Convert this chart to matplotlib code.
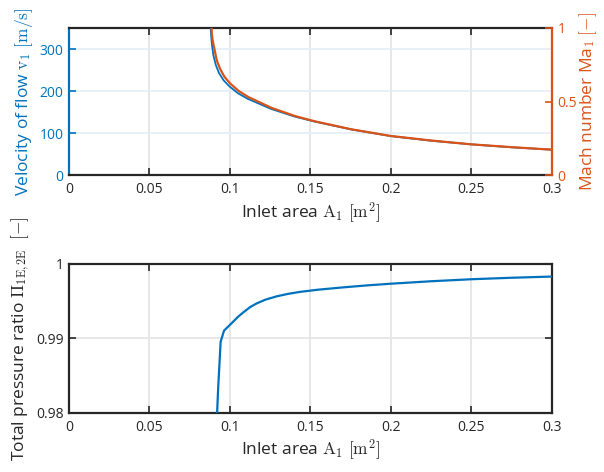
import matplotlib
matplotlib.use("Agg")
import matplotlib.pyplot as plt

# ---- data ----
A_ma = [0.0886, 0.0887, 0.0892, 0.0897, 0.0903, 0.0918, 0.0938, 0.0965, 0.1000,
        0.1055, 0.1114, 0.1259, 0.1404, 0.1528, 0.1750, 0.1998, 0.2250, 0.2500,
        0.2750, 0.3000]
Ma1 = [1.000, 0.960, 0.920, 0.890, 0.860, 0.780, 0.724, 0.670, 0.625,
       0.572, 0.532, 0.458, 0.403, 0.367, 0.314, 0.268, 0.237, 0.211,
       0.192, 0.175]

A_v = [0.0880, 0.0883, 0.0888, 0.0897, 0.0912, 0.0932, 0.0960, 0.0995, 0.1050,
       0.1110, 0.1255, 0.1400, 0.1525, 0.1750, 0.1998, 0.2250, 0.2500, 0.2750,
       0.3000]
v1 = [350, 332, 310, 285, 262, 243, 226, 212, 195,
      182, 158, 140, 128, 109.5, 93.5, 82.5, 73.8, 66.8,
      61.2]

A_pi = [0.0916, 0.0927, 0.0942, 0.0963, 0.1010, 0.1050, 0.1083, 0.1125, 0.1166,
        0.1220, 0.1290, 0.1360, 0.1435, 0.1550, 0.1700, 0.1850, 0.2000, 0.2250,
        0.2500, 0.2750, 0.3000]
Pi = [0.97800, 0.98350, 0.98955, 0.99104, 0.99203, 0.99290, 0.99350, 0.99420, 0.99470,
      0.99520, 0.99565, 0.99598, 0.99625, 0.99655, 0.99685, 0.99712, 0.99735, 0.99768,
      0.99795, 0.99815, 0.99831]

xticks = [0, 0.05, 0.1, 0.15, 0.2, 0.25, 0.3]
xticklabels = ["0", "0.05", "0.1", "0.15", "0.2", "0.25", "0.3"]
vticks = [0, 100, 200, 300]
mticks = [0, 0.5, 1]
mticklabels = ["0", "0.5", "1"]
pticks = [0.98, 0.99, 1.0]
pticklabels = ["0.98", "0.99", "1"]

BLUE = "#0072BD"
ORANGE = "#D95319"
DARK = "#262626"

plt.rcParams['font.family'] = ['Open Sans', 'DejaVu Sans']
plt.rcParams['mathtext.fontset'] = 'cm'
FS_T = 10
FS_L = 12.5

fig = plt.figure(figsize=(6.04, 4.72), dpi=100)

# ---------------- top axes ----------------
ax1 = fig.add_axes([0.1142, 0.6282, 0.7997, 0.3125])
ax1.plot(A_v, v1, color=BLUE, lw=1.3, zorder=3)
ax1.set_xlim(0, 0.3)
ax1.set_ylim(0, 350)
ax1.set_xticks(xticks)
ax1.set_xticklabels(xticklabels)
ax1.set_yticks(vticks)
ax1.tick_params(axis='x', direction='in', top=True, colors=DARK, labelsize=FS_T,
                length=5, width=1.2, pad=5)
ax1.tick_params(axis='y', direction='in', colors=BLUE, labelsize=FS_T,
                length=5, width=1.2, right=False, pad=4)
ax1.grid(axis='x', color='#E3E3E3', lw=1.2)
ax1.grid(axis='y', color='#E3EEF6', lw=1.2)
ax1.set_axisbelow(True)
for s in ['top', 'bottom']:
    ax1.spines[s].set_color(DARK)
    ax1.spines[s].set_linewidth(1.6)
ax1.spines['left'].set_color(BLUE)
ax1.spines['left'].set_linewidth(1.6)
ax1.spines['right'].set_visible(False)
ax1.set_xlabel(r"Inlet area $\mathrm{A}_1\ [\mathrm{m}^2]$", fontsize=FS_L, color=DARK,
               labelpad=2)
ax1.set_ylabel(r"Velocity of flow $\mathrm{v}_1\ [\mathrm{m/s}]$", fontsize=FS_L,
               color=BLUE, labelpad=3)

ax2 = ax1.twinx()
ax2.plot(A_ma, Ma1, color=ORANGE, lw=1.6, zorder=4)
ax2.set_ylim(0, 1)
ax2.set_yticks(mticks)
ax2.set_yticklabels(mticklabels)
ax2.tick_params(axis='y', direction='in', colors=ORANGE, labelsize=FS_T,
                length=5, width=1.2, pad=4)
for s in ['top', 'bottom', 'left']:
    ax2.spines[s].set_visible(False)
ax2.spines['right'].set_color(ORANGE)
ax2.spines['right'].set_linewidth(1.6)
ax2.set_ylabel(r"Mach number Ma$_1$ $[\mathrm{-}]$", fontsize=FS_L, color=ORANGE,
               labelpad=0)

# ---------------- bottom axes ----------------
ax3 = fig.add_axes([0.1142, 0.1256, 0.7997, 0.3151])
ax3.plot(A_pi, Pi, color=BLUE, lw=1.6, zorder=3)
ax3.set_xlim(0, 0.3)
ax3.set_ylim(0.98, 1.0)
ax3.set_xticks(xticks)
ax3.set_xticklabels(xticklabels)
ax3.set_yticks(pticks)
ax3.set_yticklabels(pticklabels)
ax3.tick_params(axis='both', direction='in', top=True, right=True, colors=DARK,
                labelsize=FS_T, length=5, width=1.2)
ax3.tick_params(axis='x', pad=5)
ax3.grid(True, color='#E3E3E3', lw=1.2)
ax3.set_axisbelow(True)
for s in ax3.spines.values():
    s.set_color(DARK)
    s.set_linewidth(1.6)
ax3.set_xlabel(r"Inlet area $\mathrm{A}_1\ [\mathrm{m}^2]$", fontsize=FS_L, color=DARK,
               labelpad=2)
ax3.set_ylabel(r"Total pressure ratio $\Pi_{\mathrm{1E,2E}}$  $[\mathrm{-}]$",
               fontsize=FS_L, color=DARK, labelpad=3)

fig.savefig("out.png", dpi=100)
